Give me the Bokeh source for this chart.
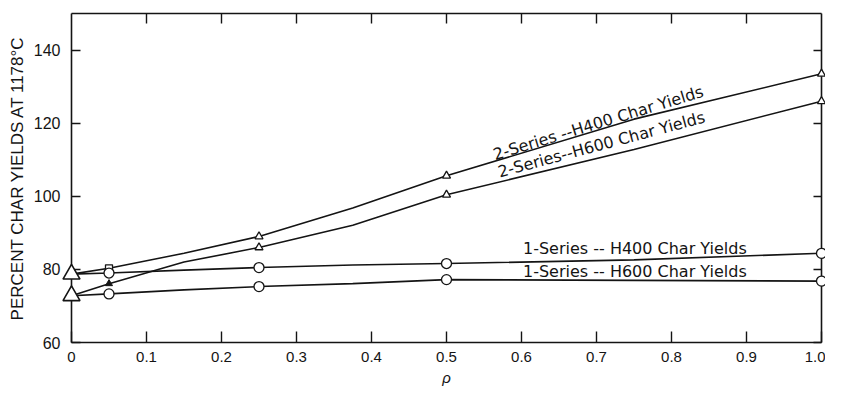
from bokeh.plotting import figure
from bokeh.models import LinearAxis, FixedTicker, CustomJSTickFormatter, Label
from bokeh.embed import file_html
from bokeh.resources import INLINE

# ---- data ----
rho_line = [0.0, 0.05, 0.15, 0.25, 0.375, 0.5, 0.75, 1.0]
h400_2_line = [78.7, 80.3, 84.4, 89.0, 96.8, 105.6, 121.1, 133.5]
h600_2_line = [72.8, 76.1, 82.0, 86.0, 92.1, 100.4, 112.8, 126.0]
h400_1_line = [78.7, 79.0, 79.8, 80.5, 81.2, 81.6, 82.6, 84.4]
h600_1_line = [72.8, 73.3, 74.4, 75.3, 76.1, 77.2, 77.0, 76.8]

rho_pts = [0.25, 0.5, 1.0]
h400_2_pts = [89.0, 105.6, 133.5]
h600_2_pts = [86.0, 100.4, 126.0]
rho_circ = [0.05, 0.25, 0.5, 1.0]
h400_1_pts = [79.0, 80.5, 81.6, 84.4]
h600_1_pts = [73.3, 75.3, 77.2, 76.8]
rho_start = [0.0, 0.0]
start_vals = [78.7, 72.8]
rho_05 = [0.05]
h400_2_05 = [80.3]
h600_2_05 = [76.1]

x_ticks = [0.0, 0.1, 0.2, 0.3, 0.4, 0.5, 0.6, 0.7, 0.8, 0.9, 1.0]
y_ticks = [60, 80, 100, 120, 140]

INK = "#141414"
FONT = "Liberation Sans"

p = figure(width=825, height=388, output_backend="svg", toolbar_location=None,
           x_range=(0, 1.0), y_range=(60, 150),
           min_border_left=71, min_border_right=4, min_border_top=13, min_border_bottom=44,
           background_fill_color="white", border_fill_color="white")
p.grid.visible = False
p.outline_line_color = None

fmt_x = CustomJSTickFormatter(code="return tick == 0 ? '0' : tick.toFixed(1);")
blank = CustomJSTickFormatter(code="return '';")

def style_axis(ax, ticks, fmt, tick_len):
    ax.ticker = FixedTicker(ticks=ticks)
    ax.formatter = fmt
    ax.axis_line_color = INK
    ax.axis_line_width = 1.6
    ax.major_tick_line_color = INK
    ax.major_tick_line_width = 1.4
    ax.major_tick_in = tick_len
    ax.major_tick_out = 0
    ax.minor_tick_line_color = None
    ax.major_label_text_font = FONT
    ax.major_label_text_font_size = "15px"
    ax.major_label_text_color = INK

xa = p.xaxis[0]
style_axis(xa, x_ticks, fmt_x, 11)
xa.major_label_standoff = 9
xa.axis_label = "ρ"
xa.axis_label_text_font = FONT
xa.axis_label_text_font_style = "italic"
xa.axis_label_text_font_size = "15px"
xa.axis_label_text_color = INK
xa.axis_label_standoff = 4

ya = p.yaxis[0]
style_axis(ya, y_ticks, ya.formatter, 9)
ya.major_label_text_font_size = "16px"
ya.major_label_standoff = 11
ya.axis_label = "PERCENT CHAR YIELDS AT 1178°C"
ya.axis_label_text_font = FONT
ya.axis_label_text_font_style = "normal"
ya.axis_label_text_font_size = "17px"
ya.axis_label_text_color = INK
ya.axis_label_standoff = 4

top = LinearAxis()
style_axis(top, x_ticks[1:-1], blank, 10)
top.major_label_standoff = 0
p.add_layout(top, "above")

right = LinearAxis()
style_axis(right, y_ticks, blank, 8)
right.major_label_standoff = 0
p.add_layout(right, "right")

# ---- curves ----
for vals in (h400_2_line, h600_2_line, h400_1_line, h600_1_line):
    p.line(rho_line, vals, line_color=INK, line_width=1.6)

# ---- markers (overlay level so edge markers are not clipped by the frame) ----
mk = dict(level="overlay")
p.scatter(rho_pts, h400_2_pts, marker="triangle", size=8, fill_color="white", line_color=INK, line_width=1.3, **mk)
p.scatter(rho_pts, h600_2_pts, marker="triangle", size=8, fill_color="white", line_color=INK, line_width=1.3, **mk)
p.scatter(rho_05, h400_2_05, marker="square", size=7, fill_color="white", line_color=INK, line_width=1.3, **mk)
p.scatter(rho_05, h600_2_05, marker="triangle", size=7, fill_color=INK, line_color=INK, line_width=1.0, **mk)
p.scatter(rho_circ, h400_1_pts, marker="circle", size=10, fill_color="white", line_color=INK, line_width=1.3, **mk)
p.scatter(rho_circ, h600_1_pts, marker="circle", size=10, fill_color="white", line_color=INK, line_width=1.3, **mk)
p.scatter(rho_start, start_vals, marker="triangle", size=17, fill_color="white", line_color=INK, line_width=1.6, **mk)

# ---- curve labels ----
LFONT = "DejaVu Sans"
def lab(x, y, text, angle):
    p.add_layout(Label(x=x, y=y, text=text, angle=angle, angle_units="deg",
                       text_font=LFONT, text_font_size="16px", text_color=INK,
                       text_baseline="alphabetic", text_align="left"))

lab(0.563, 111.3, "2-Series --H400 Char Yields", 17)
lab(0.569, 106.6, "2-Series--H600 Char Yields", 15)
lab(0.602, 85.6, "1-Series -- H400 Char Yields", 0)
lab(0.602, 79.3, "1-Series -- H600 Char Yields", 0)

open("out.html", "w").write(file_html(p, INLINE))
